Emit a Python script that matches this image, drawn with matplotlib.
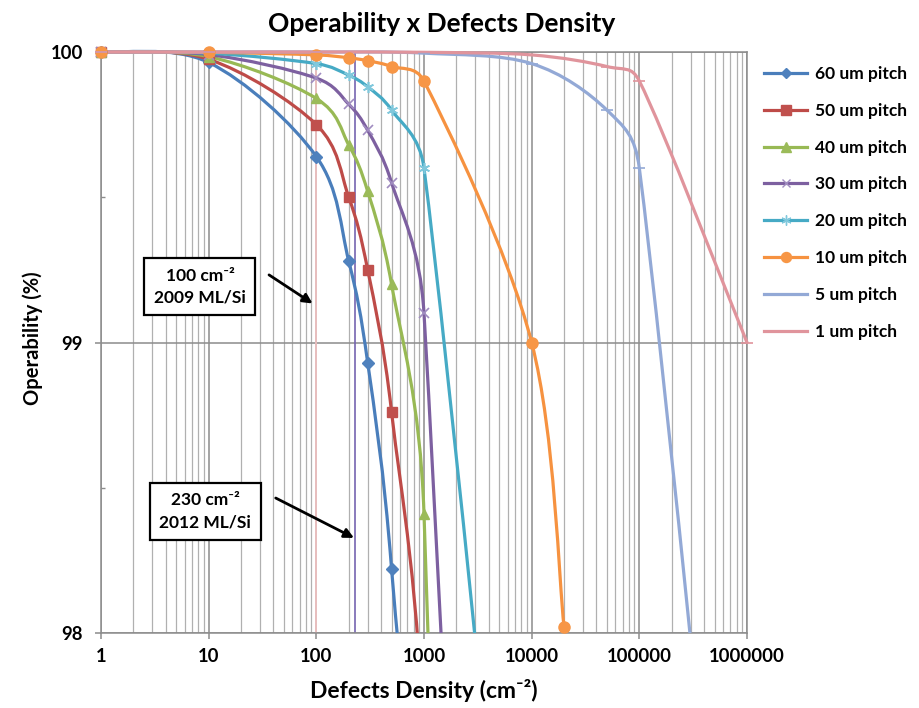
import numpy as np
import matplotlib
matplotlib.use("Agg")
import matplotlib.pyplot as plt
from matplotlib.path import Path
from matplotlib.patches import PathPatch, Rectangle
from matplotlib.lines import Line2D
from matplotlib.ticker import FixedLocator, LogLocator, NullFormatter

plt.rcParams['font.family'] = ['Lato', 'DejaVu Sans']

# ---------------- data ----------------
title = "Operability x Defects Density"
x_label = "Defects Density (cm⁻²)"
y_label = "Operability (%)"
x_tick_values = [1, 10, 100, 1000, 10000, 100000, 1000000]
x_tick_labels = ["1", "10", "100", "1000", "10000", "100000", "1000000"]
y_tick_values = [98, 99, 100]
y_tick_labels = ["98", "99", "100"]

series_labels = ["60 um pitch", "50 um pitch", "40 um pitch", "30 um pitch",
                 "20 um pitch", "10 um pitch", "5 um pitch", "1 um pitch"]

x_60 = [1, 10, 100, 200, 300, 500, 1000, 10000]
y_60 = [100.0, 99.964, 99.64, 99.28, 98.93, 98.22, 96.46, 69.8]
x_50 = [1, 10, 100, 200, 300, 500, 1000, 10000]
y_50 = [100.0, 99.975, 99.75, 99.50, 99.25, 98.76, 97.53, 77.9]
x_40 = [1, 10, 100, 200, 300, 500, 1000, 10000]
y_40 = [100.0, 99.984, 99.84, 99.68, 99.52, 99.20, 98.41, 85.2]
x_30 = [1, 10, 100, 200, 300, 500, 1000, 10000]
y_30 = [100.0, 99.991, 99.91, 99.82, 99.73, 99.55, 99.10, 91.4]
x_20 = [1, 10, 100, 200, 300, 500, 1000, 10000]
y_20 = [100.0, 99.996, 99.96, 99.92, 99.88, 99.80, 99.60, 96.08]
x_10 = [1, 10, 100, 200, 300, 500, 1000, 10000, 20000]
y_10 = [100.0, 99.999, 99.99, 99.98, 99.97, 99.95, 99.90, 99.00, 98.02]
x_5 = [1, 10, 100, 1000, 10000, 50000, 100000, 1000000]
y_5 = [100.0, 100.0, 100.0, 99.996, 99.96, 99.80, 99.60, 96.08]
x_1 = [1, 10, 100, 1000, 10000, 50000, 100000, 1000000]
y_1 = [100.0, 100.0, 100.0, 99.999, 99.99, 99.95, 99.90, 99.00]

ref_line_x = [100, 230]
ref_line_colors = ["#f5c4c4", "#7565b0"]
note_texts = ["100 cm⁻²\n2009 ML/Si", "230 cm⁻²\n2012 ML/Si"]

# ---------------- styles ----------------
series_x = [x_60, x_50, x_40, x_30, x_20, x_10, x_5, x_1]
series_y = [y_60, y_50, y_40, y_30, y_20, y_10, y_5, y_1]
line_colors = ["#4a7ebb", "#be4b48", "#98b954", "#7d60a0", "#46aac5", "#f69240", "#93a9d6", "#e0949c"]
marker_face = ["#4f81bd", "#c0504d", "#9bbb59", "none", "none", "#f79646", "none", "none"]
marker_edge = ["#4f81bd", "#c0504d", "#9bbb59", "#a08cc0", "#80c8dc", "#f79646", "#93a9d6", "#e0949c"]
markers = ["D", "s", "^", "x", (6, 2, 0), "o", "_", "_"]
marker_sizes = [6, 7.5, 7.5, 7, 8, 8, 8, 8]

fig = plt.figure(figsize=(9.19, 7.08), dpi=100)
ax = fig.add_axes([101 / 919, 1 - 633 / 708, (747 - 101) / 919, (633 - 52) / 708])
ax.set_xscale('log')
ax.set_xlim(1, 1e6)
ax.set_ylim(98, 100)


def excel_smooth(ax, xs, ys):
    pts = ax.transData.transform(np.column_stack([xs, ys]))
    n = len(pts)
    verts = [pts[0]]
    codes = [Path.MOVETO]
    for i in range(n - 1):
        p0 = pts[i - 1] if i > 0 else pts[i]
        p1 = pts[i]
        p2 = pts[i + 1]
        p3 = pts[i + 2] if i + 2 < n else pts[i + 1]
        d12 = np.hypot(*(p2 - p1))
        a = (p2 - p0) / 6.0
        b = (p3 - p1) / 6.0
        la = np.hypot(*a)
        lb = np.hypot(*b)
        if la > d12 / 2 and la > 0:
            a = a / la * d12 / 2
        if lb > d12 / 2 and lb > 0:
            b = b / lb * d12 / 2
        verts += [p1 + a, p2 - b, p2]
        codes += [Path.CURVE4] * 3
    verts = ax.transData.inverted().transform(np.array(verts))
    return Path(verts, codes)


# grid
ax.xaxis.set_minor_locator(LogLocator(base=10, subs=np.arange(2, 10), numticks=100))
ax.xaxis.set_minor_formatter(NullFormatter())
ax.yaxis.set_minor_locator(FixedLocator([98.5, 99.5]))
ax.grid(which='major', axis='x', color='#8c8c8c', lw=1.1, zorder=0)
ax.grid(which='minor', axis='x', color='#b0b0b0', lw=0.9, zorder=0)
ax.grid(which='major', axis='y', color='#8c8c8c', lw=1.1, zorder=0)
ax.set_axisbelow(True)
for s in ax.spines.values():
    s.set_color('#8c8c8c')
    s.set_linewidth(1.1)

ax.set_xticks(x_tick_values, x_tick_labels, fontweight='bold', fontsize=13.3)
ax.set_yticks(y_tick_values, y_tick_labels, fontweight='bold', fontsize=13.3)
ax.tick_params(axis='x', which='major', direction='out', length=4, width=1.1, color='#8c8c8c', pad=7)
ax.tick_params(axis='x', which='minor', length=0)
ax.tick_params(axis='y', which='major', direction='out', length=4, width=1.1, color='#8c8c8c', pad=9)
ax.tick_params(axis='y', which='minor', direction='in', length=3, width=1, color='#8c8c8c')

# reference vertical lines
for xv, c in zip(ref_line_x, ref_line_colors):
    ax.axvline(xv, color=c, lw=1.2, zorder=1)

clip_rect = Rectangle((-0.02, 0), 1.04, 1.04, transform=ax.transAxes)

handles = []
for i in range(len(series_labels)):
    xs = np.array(series_x[i], dtype=float)
    ys = np.array(series_y[i], dtype=float)
    path = excel_smooth(ax, xs, ys)
    patch = PathPatch(path, facecolor='none', edgecolor=line_colors[i], lw=2.3,
                      transform=ax.transData, zorder=3 + i * 0.1,
                      capstyle='round', joinstyle='round')
    ax.add_patch(patch)
    patch.set_clip_path(clip_rect)
    vis = ys >= 97.95
    ax.plot(xs[vis], ys[vis], ls='none', marker=markers[i], ms=marker_sizes[i],
            mfc=marker_face[i], mec=marker_edge[i], mew=1.2 if marker_face[i] == 'none' else 1,
            clip_on=False, zorder=10 + i * 0.1)
    handles.append(Line2D([], [], color=line_colors[i], lw=2.3, marker=markers[i],
                          ms=marker_sizes[i] * 0.9, mfc=marker_face[i], mec=marker_edge[i]))

fig.legend(handles, series_labels, loc='upper left', bbox_to_anchor=(764 / 919, 1 - 66 / 708),
           frameon=False, prop={'family': ['Lato', 'DejaVu Sans'], 'weight': 'bold', 'size': 12.5},
           handlelength=2.5, handletextpad=0.45, labelspacing=1.2, borderpad=0, borderaxespad=0)

# annotation boxes with arrows
box_style = dict(boxstyle='square,pad=0.55', fc='white', ec='black', lw=1.6)
ax.text(8.3, 99.193, note_texts[0], ha='center', va='center',
        fontsize=12.5, fontweight='bold', linespacing=1.45, bbox=box_style, zorder=20)
ax.annotate('', xy=(97, 99.129), xytext=(34.6, 99.238),
            arrowprops=dict(arrowstyle='-|>', color='black', lw=2, mutation_scale=14), zorder=20)
ax.text(9.25, 98.419, note_texts[1], ha='center', va='center',
        fontsize=12.5, fontweight='bold', linespacing=1.45, bbox=box_style, zorder=20)
ax.annotate('', xy=(236, 98.323), xytext=(39.8, 98.469),
            arrowprops=dict(arrowstyle='-|>', color='black', lw=2, mutation_scale=14), zorder=20)

fig.text(442 / 919, 1 - 24 / 708, title, ha='center', va='center', fontsize=19, fontweight='bold')
fig.text(424 / 919, 1 - 690 / 708, x_label, ha='center', va='center', fontsize=16.5, fontweight='bold')
fig.text(33 / 919, 1 - 338 / 708, y_label, ha='center', va='center', rotation=90,
         fontsize=14.5, fontweight='bold')

fig.savefig("out.png", dpi=100)
